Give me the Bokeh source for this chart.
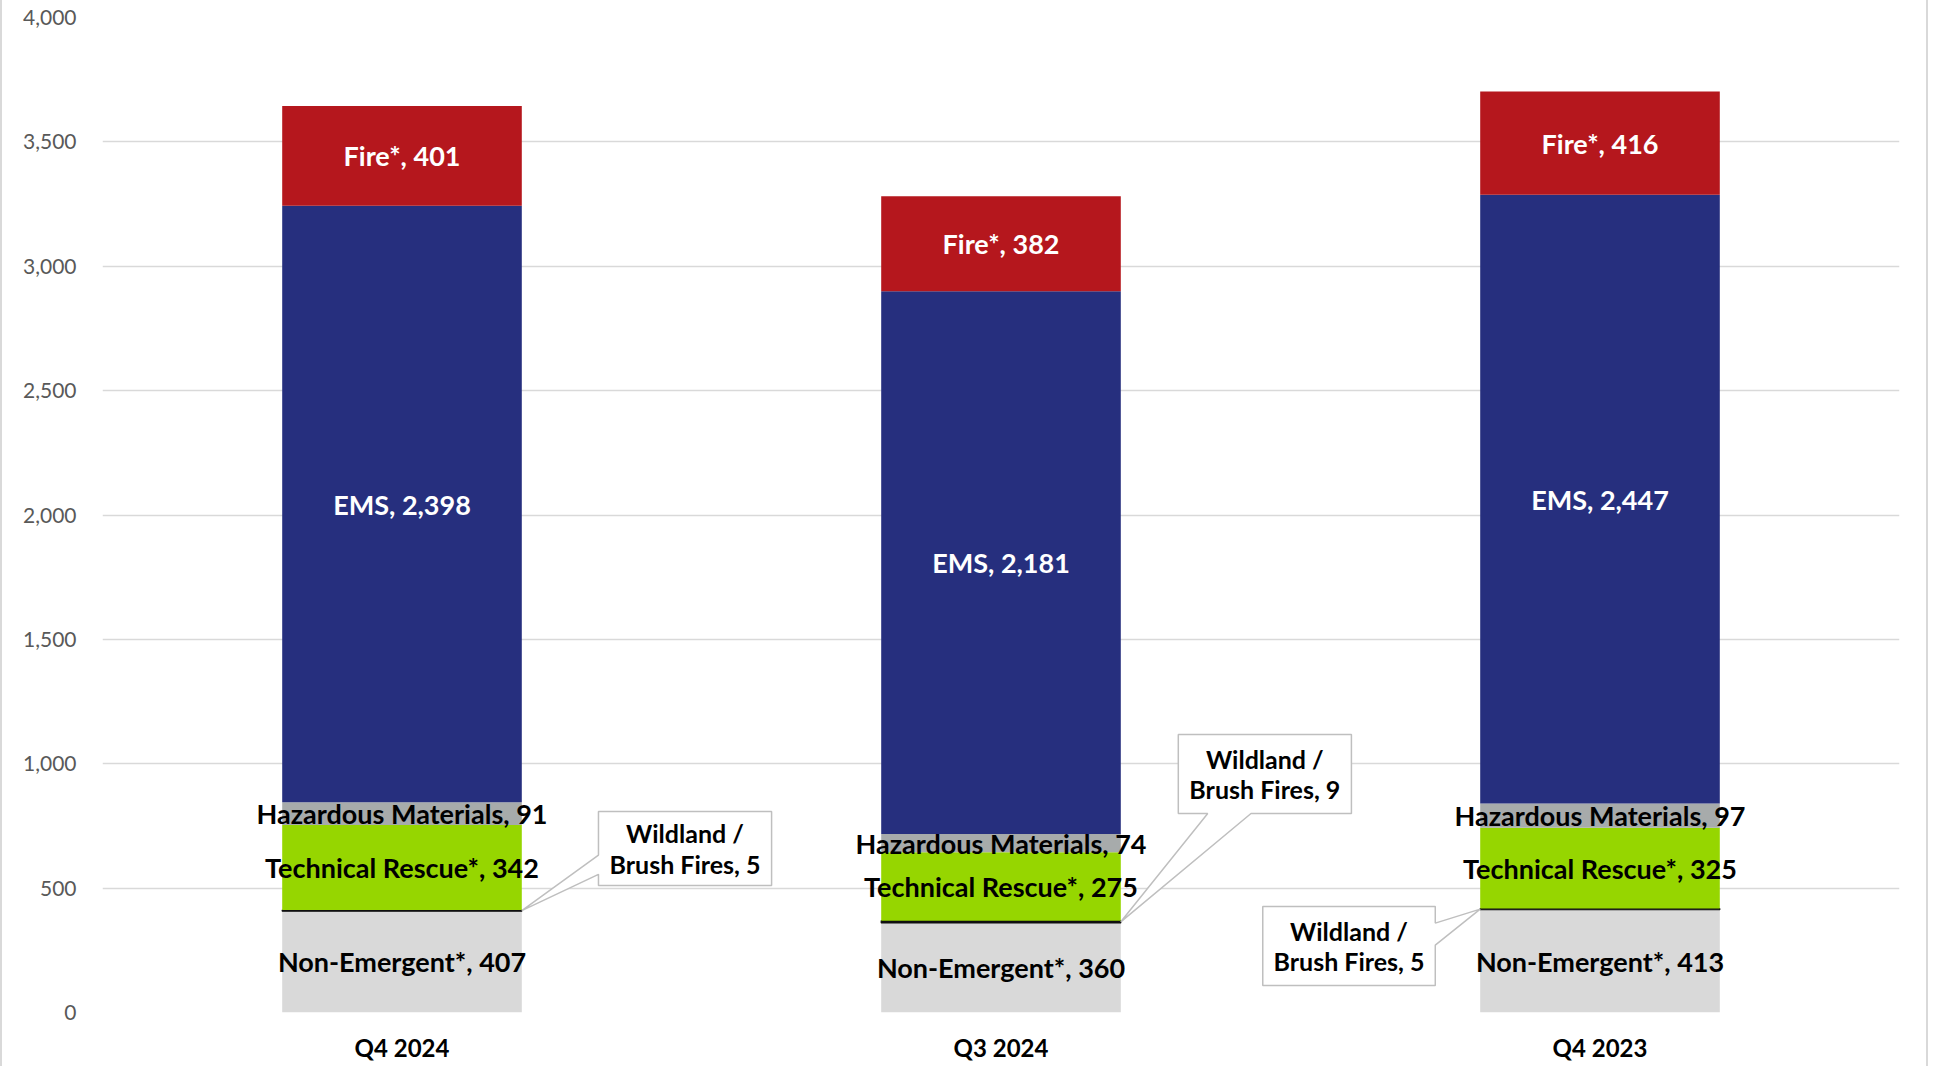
import numpy as np
from bokeh.plotting import figure
from bokeh.models import ColumnDataSource, Range1d, FixedTicker, NumeralTickFormatter
from bokeh.core.properties import value
from bokeh.embed import file_html
from bokeh.resources import INLINE

# ---- data ----
categories = ["Q4 2024", "Q3 2024", "Q4 2023"]
series_names = ["Non-Emergent*", "Wildland / Brush Fires", "Technical Rescue*",
                "Hazardous Materials", "EMS", "Fire*"]
non_emergent = [407, 360, 413]
wildland = [5, 9, 5]
technical_rescue = [342, 275, 325]
hazardous = [91, 74, 97]
ems = [2398, 2181, 2447]
fire = [401, 382, 416]
y_ticks = [0, 500, 1000, 1500, 2000, 2500, 3000, 3500, 4000]

# ---- style ----
colors = ["#D9D9D9", "#111111", "#96D600", "#A7ABAB", "#262F7E", "#B5171D"]
label_colors = ["#000000", None, "#000000", "#000000", "#FFFFFF", "#FFFFFF"]
FONT = "Lato"
BAR_W = 0.4

series = [non_emergent, wildland, technical_rescue, hazardous, ems, fire]
xs = np.arange(len(categories)) + 0.5

p = figure(frame_width=1797, frame_height=995, output_backend="svg", toolbar_location=None,
           x_range=Range1d(0, 3), y_range=Range1d(0, 4000),
           min_border_left=100, min_border_right=27, min_border_top=17, min_border_bottom=54)
p.styles = {"border-left": "2px solid #D9D9D9", "border-right": "2px solid #D9D9D9"}
p.outline_line_color = None
p.background_fill_color = "white"
p.border_fill_color = "white"

bottom = np.zeros(len(categories))
for name, vals, col, lc in zip(series_names, series, colors, label_colors):
    vals = np.array(vals, dtype=float)
    top = bottom + vals
    src = ColumnDataSource(dict(x=xs, bottom=bottom, top=top, mid=(bottom + top) / 2,
                                label=[f"{name}, {v:,.0f}" for v in vals]))
    if name.startswith("Wildland"):
        p.vbar(x="x", bottom="bottom", top="top", width=BAR_W, source=src,
               fill_color=col, line_color=col, line_width=1.2)
    else:
        p.vbar(x="x", bottom="bottom", top="top", width=BAR_W, source=src,
               fill_color=col, line_color=None)
    if lc is not None:
        p.text(x="x", y="mid", text="label", source=src, text_align="center",
               text_baseline="middle", text_color=lc, text_font=value(FONT),
               text_font_style="bold", text_font_size="27px")
    bottom = top

# ---- callouts for Wildland / Brush Fires ----
# box: (x0, x1, y_top, y_bottom) in data units; side of pointer; pointer fractions along that side
callout_boxes = [
    (0.828, 1.117, 808, 511, "left", 0.59, 0.85),
    (1.796, 2.085, 1118, 800, "bottom", 0.17, 0.42),
    (1.937, 2.225, 426, 109, "right", 0.21, 0.49),
]
wl_base = np.array(non_emergent, dtype=float)
wl_mid = wl_base + np.array(wildland) / 2
pxs, pys, tx, ty1, ty2, l1, l2 = [], [], [], [], [], [], []
for i, (x0, x1, yt, yb, side, f1, f2) in enumerate(callout_boxes):
    h = yt - yb
    w = x1 - x0
    if side == "left":
        tipx, tipy = xs[i] + BAR_W / 2, wl_mid[i]
        a, b = yt - f1 * h, yt - f2 * h
        px = [x0, x1, x1, x0, x0, tipx, x0]
        py = [yt, yt, yb, yb, b, tipy, a]
    elif side == "right":
        tipx, tipy = xs[i] - BAR_W / 2, wl_mid[i]
        a, b = yt - f1 * h, yt - f2 * h
        px = [x0, x1, x1, tipx, x1, x1, x0]
        py = [yt, yt, a, tipy, b, yb, yb]
    else:
        tipx, tipy = xs[i] + BAR_W / 2, wl_mid[i]
        a, b = x0 + f1 * w, x0 + f2 * w
        px = [x0, x1, x1, b, tipx, a, x0]
        py = [yt, yt, yb, yb, tipy, yb, yb]
    pxs.append(px)
    pys.append(py)
    cx, cy = (x0 + x1) / 2, (yt + yb) / 2
    tx.append(cx)
    ty1.append(cy + 62)
    ty2.append(cy - 62)
    l1.append("Wildland /")
    l2.append(f"Brush Fires, {wildland[i]}")

p.patches(xs=pxs, ys=pys, fill_color="white", line_color="#BFBFBF", line_width=1.5)
csrc = ColumnDataSource(dict(x=tx, y1=ty1, y2=ty2, l1=l1, l2=l2))
for ycol, lcol in (("y1", "l1"), ("y2", "l2")):
    p.text(x="x", y=ycol, text=lcol, source=csrc, text_align="center",
           text_baseline="middle", text_color="#000000", text_font=value(FONT),
           text_font_style="bold", text_font_size="25px")

# ---- axes ----
p.xgrid.visible = False
p.ygrid.grid_line_color = "#D9D9D9"
p.ygrid.grid_line_width = 1.5
p.yaxis.ticker = FixedTicker(ticks=y_ticks)
p.yaxis.formatter = NumeralTickFormatter(format="0,0")
p.yaxis.axis_line_color = None
p.yaxis.major_tick_line_color = None
p.yaxis.minor_tick_line_color = None
p.yaxis.major_label_standoff = 20
p.yaxis.major_label_text_font = FONT
p.yaxis.major_label_text_font_size = "21px"
p.yaxis.major_label_text_color = "#595959"

p.xaxis.ticker = FixedTicker(ticks=list(xs))
p.xaxis.major_label_overrides = {float(x): c for x, c in zip(xs, categories)}
p.xaxis.axis_line_color = None
p.xaxis.major_tick_line_color = None
p.xaxis.minor_tick_line_color = None
p.xaxis.major_label_standoff = 14
p.xaxis.major_label_text_font = FONT
p.xaxis.major_label_text_font_style = "bold"
p.xaxis.major_label_text_font_size = "24px"
p.xaxis.major_label_text_color = "#000000"

open("out.html", "w").write(file_html(p, INLINE))
